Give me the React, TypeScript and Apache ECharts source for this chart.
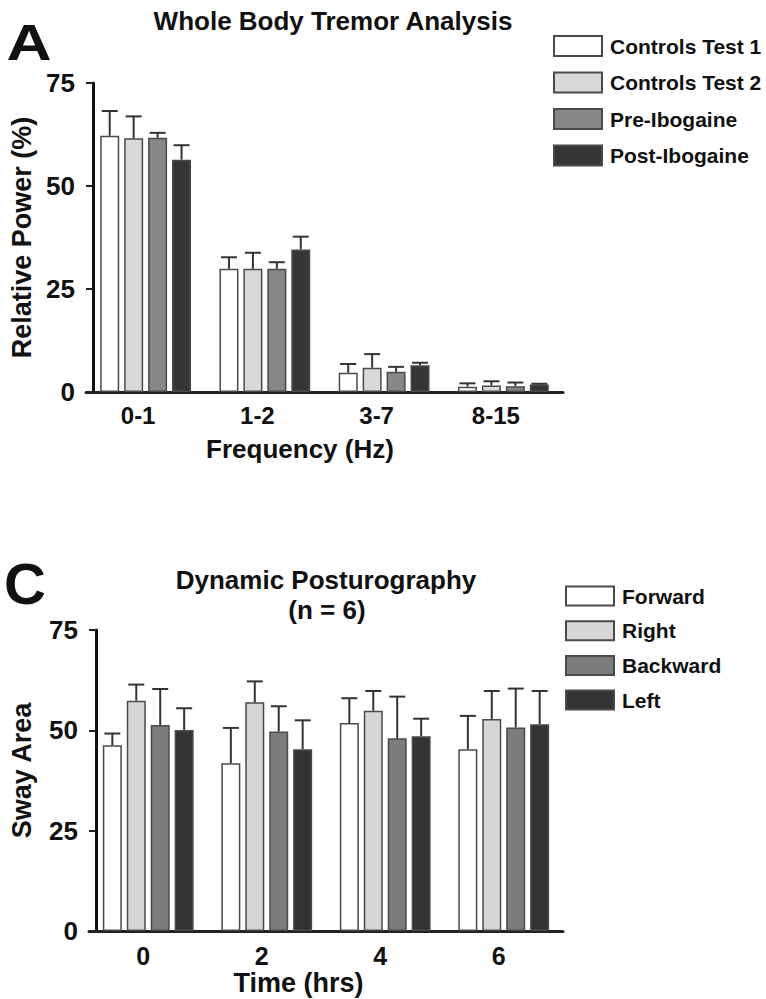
import React, { useEffect, useRef } from 'react';
import * as echarts from 'echarts';

const FONT = '"Liberation Sans", Arial, Helvetica, sans-serif';

// ---- Panel A: Whole Body Tremor Analysis ----
const freqCategories = ['0-1', '1-2', '3-7', '8-15'];
const tremorNames = ['Controls Test 1', 'Controls Test 2', 'Pre-Ibogaine', 'Post-Ibogaine'];
const controlsTest1 = [62.2, 29.9, 4.7, 1.3];
const controlsTest1Err = [6.0, 2.8, 2.1, 0.8];
const controlsTest2 = [61.6, 29.9, 5.9, 1.6];
const controlsTest2Err = [5.3, 3.9, 3.3, 1.0];
const preIbogaine = [61.7, 29.9, 4.9, 1.4];
const preIbogaineErr = [1.2, 1.6, 1.2, 0.9];
const postIbogaine = [56.4, 34.6, 6.5, 1.8];
const postIbogaineErr = [3.5, 3.1, 0.6, 0.2];
const tremorColors = ['#ffffff', '#d9d9d9', '#878787', '#363636'];

// ---- Panel C: Dynamic Posturography ----
const timeCategories = ['0', '2', '4', '6'];
const swayNames = ['Forward', 'Right', 'Backward', 'Left'];
const forward = [46.3, 41.8, 51.8, 45.3];
const forwardErr = [2.9, 8.8, 6.2, 8.3];
const right = [57.4, 57.0, 54.9, 52.8];
const rightErr = [4.0, 5.2, 4.9, 7.0];
const backward = [51.3, 49.7, 48.0, 50.7];
const backwardErr = [9.0, 6.3, 10.4, 9.7];
const left = [50.1, 45.3, 48.5, 51.5];
const leftErr = [5.4, 7.2, 4.4, 8.3];
const swayColors = ['#ffffff', '#d6d6d6', '#7c7c7c', '#333333'];

const yTicks = [0, 25, 50, 75];

const BAR_W = 19;
const BAR_GAP = 0.26;
const PITCH = BAR_W * (1 + BAR_GAP);

function barSeries(name: string, values: number[], color: string, axis: number) {
  return {
    type: 'bar',
    name,
    xAxisIndex: axis,
    yAxisIndex: axis,
    data: values,
    barWidth: BAR_W,
    barGap: `${BAR_GAP * 100}%`,
    itemStyle: { color, borderColor: '#4a4a4a', borderWidth: 1.5 },
    z: 2,
  };
}

function errSeries(name: string, values: number[], errs: number[], k: number, axis: number) {
  return {
    type: 'custom',
    name: name + ' SEM',
    xAxisIndex: axis,
    yAxisIndex: axis,
    silent: true,
    z: 3,
    data: values.map((v, i) => [i, v, v + errs[i]]),
    renderItem: (_params: any, api: any) => {
      const base = api.coord([api.value(0), api.value(1)]);
      const top = api.coord([api.value(0), api.value(2)]);
      const x = base[0] + (k - 1.5) * PITCH;
      const st = { stroke: '#333333', lineWidth: 2 };
      return {
        type: 'group',
        children: [
          { type: 'line', shape: { x1: x, y1: base[1], x2: x, y2: top[1] }, style: st },
          { type: 'line', shape: { x1: x - 8, y1: top[1], x2: x + 8, y2: top[1] }, style: st },
        ],
      };
    },
  };
}

function xAxis(
  cats: string[], name: string, gridIndex: number, nameGap: number,
  labelShift: number, labelMargin: number, labelSize: number, nameSize: number, nameShift: number,
) {
  return {
    type: 'category',
    gridIndex,
    data: cats,
    axisLine: { show: true, lineStyle: { color: '#222', width: 3 } },
    axisTick: { show: false },
    axisLabel: {
      fontFamily: FONT, fontWeight: 'bold', fontSize: labelSize, color: '#111', margin: labelMargin,
      padding: [0, labelShift, 0, 0],
    },
    name,
    nameLocation: 'middle',
    nameGap,
    nameTextStyle: {
      fontFamily: FONT, fontWeight: 'bold', fontSize: nameSize, color: '#111',
      padding: [0, nameShift, 0, 0],
    },
  };
}

function yAxis(name: string, gridIndex: number, nameGap: number, nameLift: number) {
  return {
    type: 'value',
    gridIndex,
    min: yTicks[0],
    max: yTicks[yTicks.length - 1],
    interval: 25,
    offset: -7,
    axisLine: { show: true, lineStyle: { color: '#111', width: 3 } },
    axisTick: { show: true, length: 7, lineStyle: { color: '#222', width: 2 } },
    axisLabel: { fontFamily: FONT, fontWeight: 'bold', fontSize: 26, color: '#111', margin: 18 },
    splitLine: { show: false },
    name,
    nameLocation: 'middle',
    nameRotate: 90,
    nameGap,
    nameTextStyle: {
      fontFamily: FONT, fontWeight: 'bold', fontSize: 27, color: '#111',
      padding: [0, 0, 0, nameLift],
    },
  };
}

export default function App() {
  const ref = useRef<HTMLDivElement>(null);
  useEffect(() => {
    if (!ref.current) return;
    const chart = echarts.init(ref.current, undefined, { renderer: 'svg' });
    const tremorData = [controlsTest1, controlsTest2, preIbogaine, postIbogaine];
    const tremorErr = [controlsTest1Err, controlsTest2Err, preIbogaineErr, postIbogaineErr];
    const swayData = [forward, right, backward, left];
    const swayErr = [forwardErr, rightErr, backwardErr, leftErr];

    const series: any[] = [];
    tremorNames.forEach((n, k) => series.push(barSeries(n, tremorData[k], tremorColors[k], 0)));
    swayNames.forEach((n, k) => series.push(barSeries(n, swayData[k], swayColors[k], 1)));
    tremorNames.forEach((n, k) => series.push(errSeries(n, tremorData[k], tremorErr[k], k, 0)));
    swayNames.forEach((n, k) => series.push(errSeries(n, swayData[k], swayErr[k], k, 1)));

    const legendBase = {
      orient: 'vertical',
      icon: 'rect',
      itemWidth: 48,
      padding: 0,
      selectedMode: false,
      itemStyle: { borderColor: '#4a4a4a', borderWidth: 2 },
    };

    chart.setOption({
      animation: false,
      backgroundColor: '#ffffff',
      textStyle: { fontFamily: FONT },
      grid: [
        { left: 86, top: 83, width: 477, height: 309 },
        { left: 86, top: 630, width: 477, height: 301 },
      ],
      xAxis: [
        xAxis(freqCategories, 'Frequency (Hz)', 0, 44, 15, 11, 24, 26, 49),
        xAxis(timeCategories, 'Time (hrs)', 1, 38, 10, 12, 25, 27, 55),
      ],
      yAxis: [yAxis('Relative Power (%)', 0, 53, 0), yAxis('Sway Area', 1, 61, 20)],
      legend: [
        {
          ...legendBase, data: tremorNames, left: 553, top: 35, itemHeight: 20, itemGap: 14.5,
          textStyle: { fontFamily: FONT, fontWeight: 'bold', fontSize: 21, lineHeight: 20, color: '#111', padding: [0, 0, 0, 3] },
        },
        {
          ...legendBase, data: swayNames, left: 565, top: 585.5, itemHeight: 19, itemGap: 13.7,
          textStyle: { fontFamily: FONT, fontWeight: 'bold', fontSize: 21, lineHeight: 19, color: '#111', padding: [0, 0, 0, 3] },
        },
      ],
      graphic: [
        {
          type: 'text', x: 29, y: 43, scaleX: 1.25,
          style: { text: 'A', font: `900 50px ${FONT}`, fill: '#111', align: 'center', verticalAlign: 'middle' },
        },
        {
          type: 'text', x: 333, y: 21,
          style: { text: 'Whole Body Tremor Analysis', font: `bold 26px ${FONT}`, fill: '#111', align: 'center', verticalAlign: 'middle' },
        },
        {
          type: 'text', x: 25, y: 583,
          style: { text: 'C', font: `900 58px ${FONT}`, fill: '#111', align: 'center', verticalAlign: 'middle' },
        },
        {
          type: 'text', x: 326, y: 580,
          style: { text: 'Dynamic Posturography', font: `bold 26px ${FONT}`, fill: '#111', align: 'center', verticalAlign: 'middle' },
        },
        {
          type: 'text', x: 327, y: 610,
          style: { text: '(n = 6)', font: `bold 26px ${FONT}`, fill: '#111', align: 'center', verticalAlign: 'middle' },
        },
      ],
      series,
    });
    return () => chart.dispose();
  }, []);
  return (
    <div
      ref={ref}
      style={{ position: 'absolute', left: 0, top: 0, width: 766, height: 999, background: '#fff' }}
    />
  );
}
